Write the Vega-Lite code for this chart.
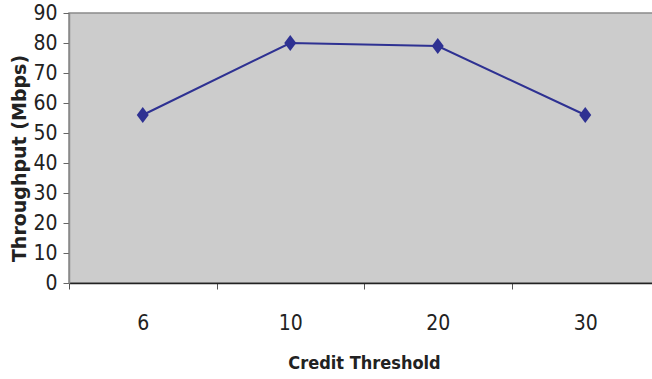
{
  "$schema": "https://vega.github.io/schema/vega-lite/v6.json",
  "autosize": "none",
  "padding": {"left": 69, "top": 13, "right": 0, "bottom": 96},
  "width": 590,
  "height": 270,
  "background": "white",
  "config": {
    "view": {"fill": "#cccccc", "stroke": "#8a8a8a", "strokeWidth": 1.5},
    "axis": {"grid": false}
  },
  "data": {
    "values": [
      {"threshold": "6", "throughput": 56},
      {"threshold": "10", "throughput": 80},
      {"threshold": "20", "throughput": 79},
      {"threshold": "30", "throughput": 56}
    ]
  },
  "encoding": {
    "x": {
      "field": "threshold",
      "type": "ordinal",
      "sort": null,
      "scale": {"paddingInner": 0, "paddingOuter": 0},
      "axis": {
        "title": "Credit Threshold",
        "titleFont": "DejaVu Sans Condensed",
        "titleFontSize": 18,
        "titleFontWeight": "bold",
        "titleColor": "#222222",
        "titlePadding": 21,
        "labelAngle": 0,
        "labelFont": "DejaVu Sans Condensed",
        "labelFontSize": 21,
        "labelColor": "#222222",
        "labelPadding": 23,
        "tickBand": "extent",
        "tickSize": 6,
        "tickColor": "#555555",
        "domainColor": "#222222",
        "domainWidth": 1.5
      }
    },
    "y": {
      "field": "throughput",
      "type": "quantitative",
      "scale": {"domain": [0, 90], "nice": false},
      "axis": {
        "title": "Throughput (Mbps)",
        "titleFont": "DejaVu Sans",
        "titleFontSize": 19,
        "titleFontWeight": "bold",
        "titleColor": "#222222",
        "titlePadding": 3,
        "titleY": 145,
        "values": [0, 10, 20, 30, 40, 50, 60, 70, 80, 90],
        "labelFont": "DejaVu Sans Condensed",
        "labelFontSize": 21,
        "labelColor": "#222222",
        "labelPadding": 6,
        "tickSize": 6,
        "tickColor": "#666666",
        "domainColor": "#8a8a8a",
        "domainWidth": 1.5
      }
    }
  },
  "layer": [
    {"mark": {"type": "line", "color": "#2e3192", "strokeWidth": 2}},
    {
      "mark": {
        "type": "point",
        "filled": true,
        "opacity": 1,
        "color": "#2e3192",
        "shape": "M0,-1L0.75,0L0,1L-0.75,0Z",
        "size": 256
      }
    }
  ]
}
